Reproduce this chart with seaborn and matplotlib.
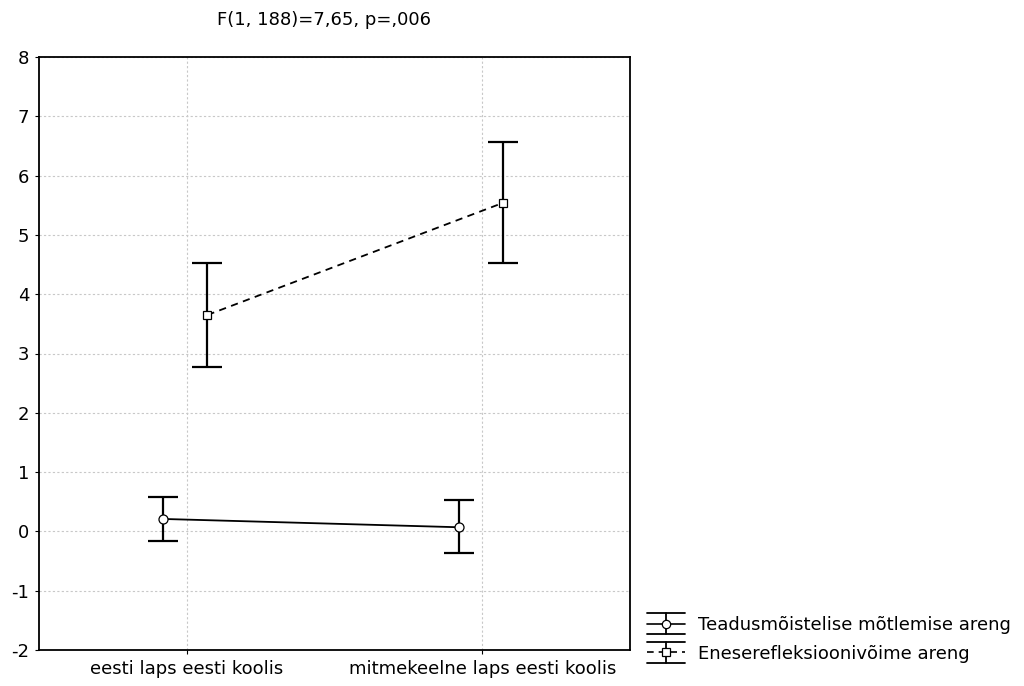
import matplotlib
matplotlib.use("Agg")
import matplotlib.pyplot as plt
from matplotlib.lines import Line2D
from matplotlib.legend_handler import HandlerBase
import seaborn as sns
import pandas as pd
import numpy as np

categories = ["eesti laps eesti koolis", "mitmekeelne laps eesti koolis"]
series_names = ["Teadusmõistelise mõtlemise areng", "Eneserefleksioonivõime areng"]
s1_mean = [0.21, 0.07]
s1_low = [-0.17, -0.36]
s1_high = [0.58, 0.53]
s2_mean = [3.65, 5.54]
s2_low = [2.78, 4.53]
s2_high = [4.52, 6.56]
title = "F(1, 188)=7,65, p=,006"
yticks = [-2, -1, 0, 1, 2, 3, 4, 5, 6, 7, 8]

sns.set_theme(style="white")
plt.rcParams['font.family'] = ['DejaVu Sans']
plt.rcParams['text.color'] = 'black'
plt.rcParams['xtick.color'] = 'black'
plt.rcParams['ytick.color'] = 'black'
FS = 13

fig = plt.figure(figsize=(10.24, 6.86), dpi=100)
ax = fig.add_axes([39/1024, 36/686, (630-39)/1024, (650-57)/686])

offsets = [-0.08, 0.07]
base = np.arange(len(categories))
rows = []
for name, m, off in [(series_names[0], s1_mean, offsets[0]), (series_names[1], s2_mean, offsets[1])]:
    for i, v in enumerate(m):
        rows.append({"x": base[i] + off, "y": v, "series": name})
df = pd.DataFrame(rows)

styles = [("-", "o"), ((0, (4, 3)), "s")]
for k, name in enumerate(series_names):
    sub = df[df.series == name]
    sns.lineplot(data=sub, x="x", y="y", ax=ax, color="black", linewidth=1.3,
                 linestyle=styles[k][0], legend=False, zorder=3)

means = [s1_mean, s2_mean]
lows = [s1_low, s2_low]
highs = [s1_high, s2_high]
for k in range(2):
    xs = base + offsets[k]
    m = np.array(means[k]); lo = np.array(lows[k]); hi = np.array(highs[k])
    ax.errorbar(xs, m, yerr=[m - lo, hi - m], fmt="none", ecolor="black",
                elinewidth=1.6, capsize=10.5, capthick=1.6, zorder=4)
    ax.plot(xs, m, linestyle="none", marker=styles[k][1], markersize=6.5 if k == 0 else 6,
            markerfacecolor="white", markeredgecolor="black", markeredgewidth=0.9, zorder=5)

ax.set_xlim(-0.5, 1.5)
ax.set_ylim(-2, 8)
ax.set_xticks(base)
ax.set_xticklabels(categories, fontsize=FS, color="black")
ax.set_yticks(yticks)
ax.set_yticklabels([str(t) for t in yticks], fontsize=FS, color="black")
ax.set_xlabel("")
ax.set_ylabel("")
ax.grid(True, color="#c8c8c8", linestyle=(0, (2, 2)), linewidth=0.8)
ax.tick_params(axis="both", direction="out", length=3, width=0.8, color="black",
               bottom=True, left=True, pad=4)
for sp in ax.spines.values():
    sp.set_color("black")
    sp.set_linewidth(1.3)
fig.text(324/1024, 1 - 20/686, title, fontsize=FS, color="black", ha="center", va="center")


class ErrHandler(HandlerBase):
    def __init__(self, ls, marker):
        super().__init__()
        self.ls = ls
        self.marker = marker

    def create_artists(self, legend, orig_handle, xdescent, ydescent, width, height,
                       fontsize, trans):
        x0 = -xdescent
        x1 = -xdescent + width
        xm = (x0 + x1) / 2
        cy = (height - ydescent) / 2
        d = 7.8
        arts = []
        for yy in (cy + d, cy - d):
            arts.append(Line2D([x0, x1], [yy, yy], color="black", linewidth=1.3))
        arts.append(Line2D([xm, xm], [cy - d, cy + d], color="black", linewidth=1.3))
        arts.append(Line2D([x0, x1], [cy, cy], color="black", linewidth=1.2, linestyle=self.ls))
        arts.append(Line2D([xm], [cy], color="black", linestyle="none", marker=self.marker,
                           markersize=6, markerfacecolor="white", markeredgecolor="black",
                           markeredgewidth=0.9))
        for a in arts:
            a.set_transform(trans)
        return arts


handles = []
hmap = {}
for k in range(2):
    ln = Line2D([], [], color="black")
    handles.append(ln)
    hmap[ln] = ErrHandler(styles[k][0], styles[k][1])
leg = fig.legend(handles, series_names, handler_map=hmap, loc="lower left",
                 bbox_to_anchor=(640/1024, 16/686), frameon=False, fontsize=FS,
                 handlelength=2.1, handletextpad=0.7, labelspacing=0.6, borderaxespad=0)
for t in leg.get_texts():
    t.set_color("black")

fig.savefig("out.png", dpi=100, facecolor="white")
